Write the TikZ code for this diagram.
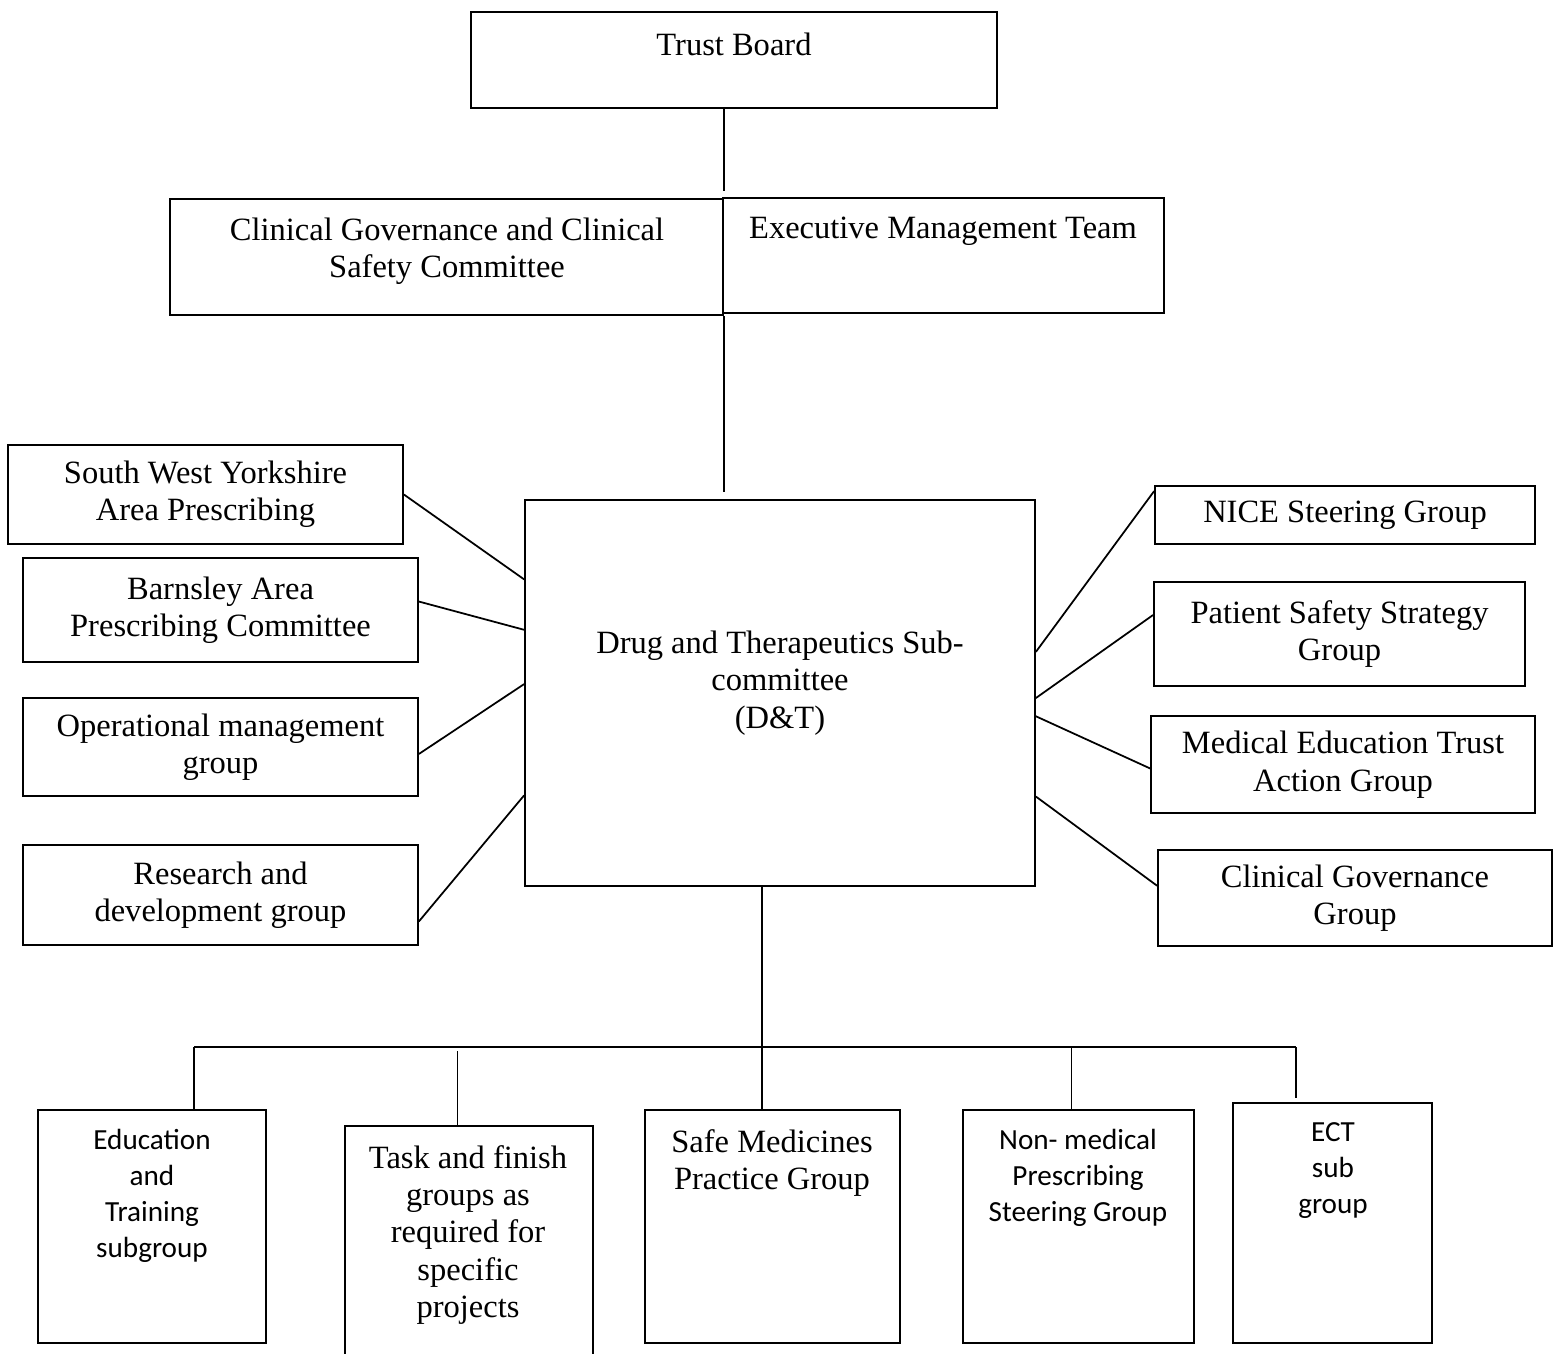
\documentclass[tikz,border=0pt]{standalone}
\usepackage{fontspec}
\setmainfont{Liberation Serif}
\newfontfamily\calibri{Carlito}
\usetikzlibrary{calc}

\newcommand{\orgserif}{\fontsize{18.5}{21.3}\selectfont}
\newcommand{\orgsans}{\calibri\fontsize{16.6}{20.5}\selectfont}

\begin{document}
\begin{tikzpicture}[
    orgbox/.style={rectangle, draw, line width=1pt, inner sep=0pt, align=center, text=black, font=\orgserif},
    toptext/.style={inner sep=0pt, align=center, text=black, font=\orgserif},
    sanstext/.style={toptext, font=\orgsans},
    link/.style={line width=1pt},
    ]
  \useasboundingbox (0,0) rectangle (31.06,-27.08);
  \clip (0,0) rectangle (31.06,-27.08);

  % top of the tree
  \node [orgbox, minimum width=10.52cm, minimum height=1.92cm] (tb) at (14.68,-1.20) {};
  \node [toptext] (tb-t) at (14.68,-0.88) {Trust Board};
  \node [orgbox, minimum width=11.06cm, minimum height=2.32cm] (cg) at (8.93,-5.14) {};
  \node [toptext] (cg-t) at (8.94,-5.02) {Clinical Governance and Clinical\\Safety Committee};
  \node [orgbox, minimum width=8.82cm, minimum height=2.30cm] (emt) at (18.87,-5.11) {};
  \node [toptext] (emt-t) at (18.86,-4.62) {Executive Management Team};

  % D&T
  \node [orgbox, minimum width=10.20cm, minimum height=7.72cm] (dt) at (15.60,-13.86) {};
  \node [toptext] (dt-t) at (15.60,-13.66) {Drug and Therapeutics Sub-\\committee\\(D\&T)};

  % left side
  \node [orgbox, minimum width=7.90cm, minimum height=1.98cm] (swy) at (4.11,-9.89) {South West Yorkshire\\Area Prescribing};
  \node [orgbox, minimum width=7.90cm, minimum height=2.08cm] (bapc) at (4.41,-12.20) {Barnsley Area\\Prescribing Committee};
  \node [orgbox, minimum width=7.90cm, minimum height=1.96cm] (omg) at (4.41,-14.94) {Operational management\\group};
  \node [orgbox, minimum width=7.90cm, minimum height=2.00cm] (rdg) at (4.41,-17.90) {Research and\\development group};

  % right side
  \node [orgbox, minimum width=7.60cm, minimum height=1.16cm] (nice) at (26.90,-10.30) {NICE Steering Group};
  \node [orgbox, minimum width=7.42cm, minimum height=2.08cm] (pss) at (26.79,-12.68) {Patient Safety Strategy\\Group};
  \node [orgbox, minimum width=7.68cm, minimum height=1.94cm] (meta) at (26.86,-15.29) {Medical Education Trust\\Action Group};
  \node [orgbox, minimum width=7.88cm, minimum height=1.92cm] (cgg) at (27.10,-17.96) {Clinical Governance\\Group};

  % subgroups
  \node [orgbox, minimum width=4.56cm, minimum height=4.66cm] (edu) at (3.04,-24.53) {};
  \node [sanstext] (edu-t) at (3.04,-23.92) {Education\\and\\Training\\subgroup};
  \node [orgbox, minimum width=4.96cm, minimum height=4.88cm] (tfg) at (9.38,-24.96) {};
  \node [toptext] (tfg-t) at (9.36,-24.70) {Task and finish\\groups as\\required for\\specific\\projects};
  \node [orgbox, minimum width=5.10cm, minimum height=4.66cm] (smpg) at (15.45,-24.53) {};
  \node [toptext] (smpg-t) at (15.44,-23.26) {Safe Medicines\\Practice Group};
  \node [orgbox, minimum width=4.62cm, minimum height=4.66cm] (nmp) at (21.57,-24.53) {};
  \node [sanstext] (nmp-t) at (21.56,-23.56) {Non- medical\\Prescribing\\Steering Group};
  \node [orgbox, minimum width=3.98cm, minimum height=4.80cm] (ect) at (26.65,-24.46) {};
  \node [sanstext] (ect-t) at (26.66,-23.42) {ECT\\sub\\group};

  % connectors
  \draw [link] (tb.south -| cg.east) -- ([yshift=0.14cm]cg.north east);
  \draw [link] (cg.south east) -- ([yshift=0.14cm]cg.south east |- dt.north);

  \draw [link] (swy.east) -- ($(dt.north west)!0.207!(dt.south west)$);
  \draw [link] ($(bapc.north east)!0.42!(bapc.south east)$) -- ($(dt.north west)!0.337!(dt.south west)$);
  \draw [link] ($(omg.north east)!0.57!(omg.south east)$) -- ($(dt.north west)!0.477!(dt.south west)$);
  \draw [link] ($(rdg.north east)!0.76!(rdg.south east)$) -- ($(dt.north west)!0.764!(dt.south west)$);

  \draw [link] ($(dt.north east)!0.394!(dt.south east)$) -- ($(nice.north west)!0.10!(nice.south west)$);
  \draw [link] ($(dt.north east)!0.513!(dt.south east)$) -- ($(pss.north west)!0.32!(pss.south west)$);
  \draw [link] ($(dt.north east)!0.560!(dt.south east)$) -- ($(meta.north west)!0.54!(meta.south west)$);
  \draw [link] ($(dt.north east)!0.767!(dt.south east)$) -- ($(cgg.north west)!0.375!(cgg.south west)$);

  \coordinate (bus-l) at (3.88,-20.94);
  \coordinate (bus-r) at (25.92,-20.94);
  \draw [link] ([xshift=-0.36cm]dt.south) -- ([xshift=-0.36cm]dt.south |- smpg.north);
  \draw [link] (bus-l) -- (bus-r);
  \draw [link] (bus-l) -- (bus-l |- edu.north);
  \draw [link] ([xshift=-0.23cm]tfg.north) -- ++(0,1.48);
  \draw [link] ([xshift=-0.14cm]nmp.north) -- ([xshift=-0.14cm]nmp.north |- bus-l);
  \draw [link] (bus-r) -- ([yshift=0.08cm]bus-r |- ect.north);
\end{tikzpicture}
\end{document}
